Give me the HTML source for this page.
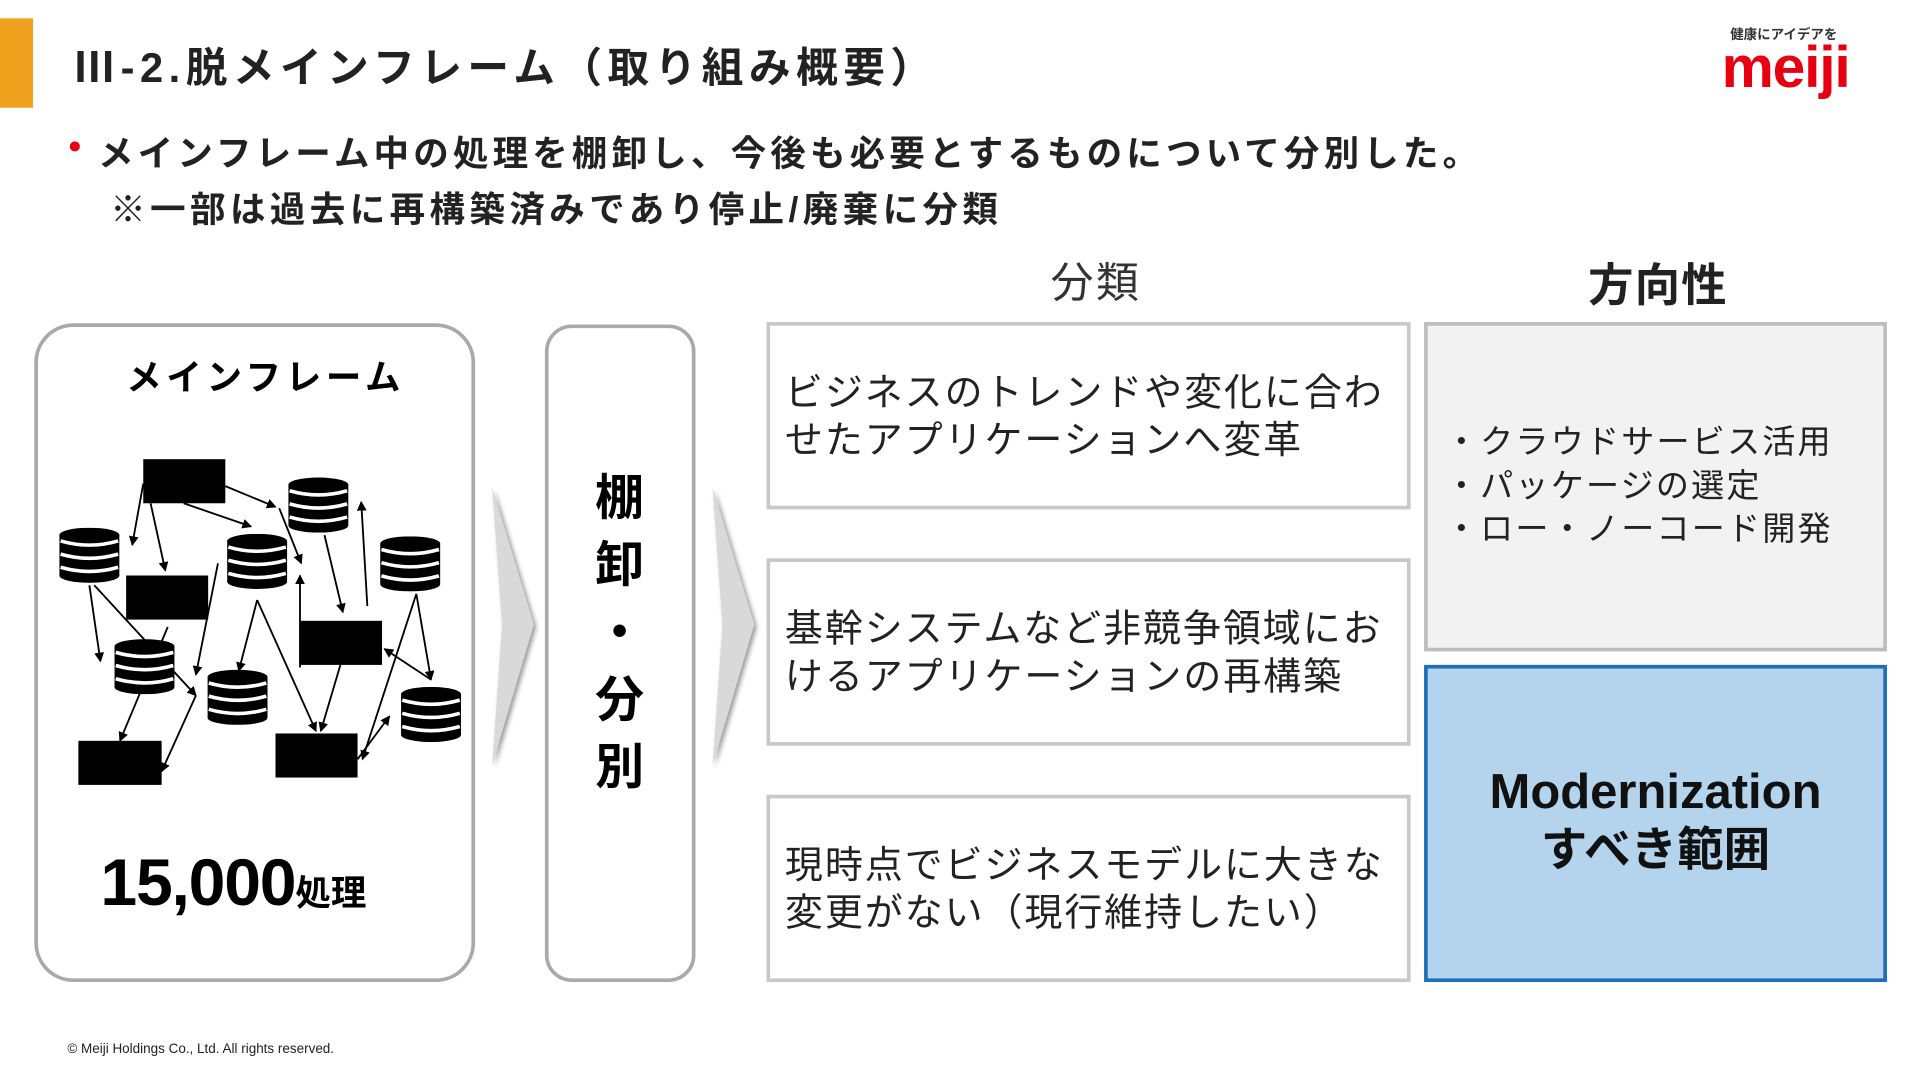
<!DOCTYPE html>
<html><head><meta charset="utf-8"><style>
html,body{margin:0;padding:0;background:#fff;width:1920px;height:1080px;overflow:hidden}
#w{position:absolute;left:0;top:0;width:1568px;height:882px;transform:scale(1.22449);transform-origin:0 0;font-family:"Liberation Sans","Noto Sans CJK JP",sans-serif;color:#000}
.a{position:absolute;white-space:nowrap}
.box{position:absolute;box-sizing:border-box}
.cat{border:3px solid #c8c8c8;background:#fff;font-size:31px;line-height:39px;padding:35px 0 0 12px;color:#222;letter-spacing:1.6px}
</style></head><body><div id="w">
<div class="box" style="left:0;top:15px;width:27px;height:73px;background:#f0a21e"></div>
<div class="a" style="left:60px;top:28px;font-size:34px;font-weight:bold;color:#222;letter-spacing:4.5px">Ⅲ-2.脱メインフレーム（取り組み概要）</div>
<div class="a" style="left:1413px;top:20px;font-size:11px;font-weight:bold;color:#333">健康にアイデアを</div>
<div class="a" style="left:1406px;top:28px;font-size:48px;font-weight:bold;color:#e60012;letter-spacing:-1px">meiji</div>
<div class="a" style="left:56px;top:104px;font-size:29px;font-weight:bold;color:#e60012">•</div>
<div class="a" style="left:80px;top:102px;font-size:29px;font-weight:bold;color:#222;letter-spacing:3.4px">メインフレーム中の処理を棚卸し、今後も必要とするものについて分別した。</div>
<div class="a" style="left:90px;top:148px;font-size:29px;font-weight:bold;color:#222;letter-spacing:3.6px">※一部は過去に再構築済みであり停止/廃棄に分類</div>
<div class="a" style="left:858px;top:203px;font-size:35px;color:#333;letter-spacing:2px">分類</div>
<div class="a" style="left:1297px;top:203px;font-size:37px;font-weight:bold;color:#222;letter-spacing:1px">方向性</div>

<div class="box" style="left:28px;top:264px;width:360px;height:538px;border:3px solid #a9a9a9;border-radius:32px"></div>
<div class="a" style="left:103px;top:285px;font-size:29px;font-weight:bold;letter-spacing:3.8px">メインフレーム</div>
<div class="a" style="left:82px;top:690px;font-size:54px;font-weight:bold;letter-spacing:-1px">15,000<span style="font-size:29px;letter-spacing:0">処理</span></div>

<svg class="a" style="left:0;top:0" width="1568" height="882">
<defs>
<marker id="m" markerWidth="8" markerHeight="8" refX="7" refY="4" orient="auto" markerUnits="userSpaceOnUse"><path d="M0,0L8,4L0,8z" fill="#000"/></marker>
<symbol id="db" viewBox="0 0 50 46"><ellipse cx="25" cy="40" rx="25" ry="6"/><rect x="0" y="6" width="50" height="34"/><ellipse cx="25" cy="6" rx="25" ry="6"/><path d="M1,11Q25,18 49,11M1,22Q25,29 49,22M1,33Q25,40 49,33" stroke="#fff" stroke-width="3" fill="none"/></symbol>
<filter id="sh"><feDropShadow dx="2" dy="2" stdDeviation="2" flood-color="#999"/></filter>
</defs>
<g stroke="#000" stroke-width="1.5" marker-end="url(#m)">
<line x1="117" y1="395" x2="108" y2="445"/><line x1="123" y1="411" x2="135" y2="466"/>
<line x1="150" y1="411" x2="205" y2="430"/><line x1="184" y1="397" x2="225" y2="414"/>
<line x1="228" y1="415" x2="246" y2="460"/><line x1="265" y1="437" x2="280" y2="500"/>
<line x1="300" y1="495" x2="295" y2="410"/><line x1="73" y1="478" x2="82" y2="540"/>
<line x1="77" y1="478" x2="160" y2="568"/><line x1="178" y1="460" x2="160" y2="551"/>
<line x1="210" y1="490" x2="195" y2="548"/><line x1="210" y1="490" x2="258" y2="597"/>
<line x1="278" y1="543" x2="262" y2="597"/><line x1="245" y1="545" x2="245" y2="470"/>
<line x1="340" y1="485" x2="352" y2="555"/><line x1="340" y1="485" x2="296" y2="620"/>
<line x1="352" y1="555" x2="314" y2="530"/><line x1="292" y1="620" x2="318" y2="585"/>
<line x1="137" y1="512" x2="98" y2="605"/><line x1="160" y1="568" x2="132" y2="630"/>
</g>
<g fill="#000">
<rect x="117" y="375" width="67" height="36"/><rect x="103" y="470" width="67" height="36"/>
<rect x="245" y="507" width="67" height="36"/><rect x="64" y="605" width="68" height="36"/>
<rect x="225" y="599" width="67" height="36"/>
<use href="#db" x="48" y="431" width="50" height="45"/><use href="#db" x="235" y="390" width="50" height="45"/>
<use href="#db" x="185" y="436" width="50" height="45"/><use href="#db" x="310" y="438" width="50" height="45"/>
<use href="#db" x="93" y="522" width="50" height="45"/><use href="#db" x="169" y="547" width="50" height="45"/>
<use href="#db" x="327" y="561" width="50" height="45"/>
</g>
<g fill="#d9d9d9" filter="url(#sh)">
<path d="M402,398 L436,510 L402,625 L410,510 Z"/>
<path d="M582,398 L616,510 L582,625 L590,510 Z"/>
</g>
</svg>

<div class="box" style="left:445px;top:265px;width:123px;height:537px;border:3px solid #a9a9a9;border-radius:22px"></div>
<div class="a" style="left:485px;top:380px;font-size:40px;font-weight:bold;line-height:55px;text-align:center;width:42px;white-space:normal">棚<br>卸<br>・<br>分<br>別</div>

<div class="box cat" style="left:626px;top:263px;width:526px;height:153px">ビジネスのトレンドや変化に合わ<br>せたアプリケーションへ変革</div>
<div class="box cat" style="left:626px;top:456px;width:526px;height:153px">基幹システムなど非競争領域にお<br>けるアプリケーションの再構築</div>
<div class="box cat" style="left:626px;top:649px;width:526px;height:153px">現時点でビジネスモデルに大きな<br>変更がない（現行維持したい）</div>

<div class="box" style="left:1163px;top:263px;width:378px;height:269px;background:#f2f2f2;border:3px solid #bdbdbd;padding:78px 0 0 14px;font-size:27px;line-height:35.5px;color:#222;letter-spacing:1.8px">・クラウドサービス活用<br>・パッケージの選定<br>・ロー・ノーコード開発</div>
<div class="box" style="left:1163px;top:543px;width:378px;height:259px;background:#b4d4ee;border:3px solid #1f6fb6;text-align:center;padding-top:78px;font-size:38px;font-weight:bold;line-height:47px;color:#111"><span style="font-size:40px">Modernization</span><br>すべき範囲</div>

<div class="a" style="left:55px;top:851px;font-size:11px;color:#222">© Meiji Holdings Co., Ltd. All rights reserved.</div>
</div></body></html>
